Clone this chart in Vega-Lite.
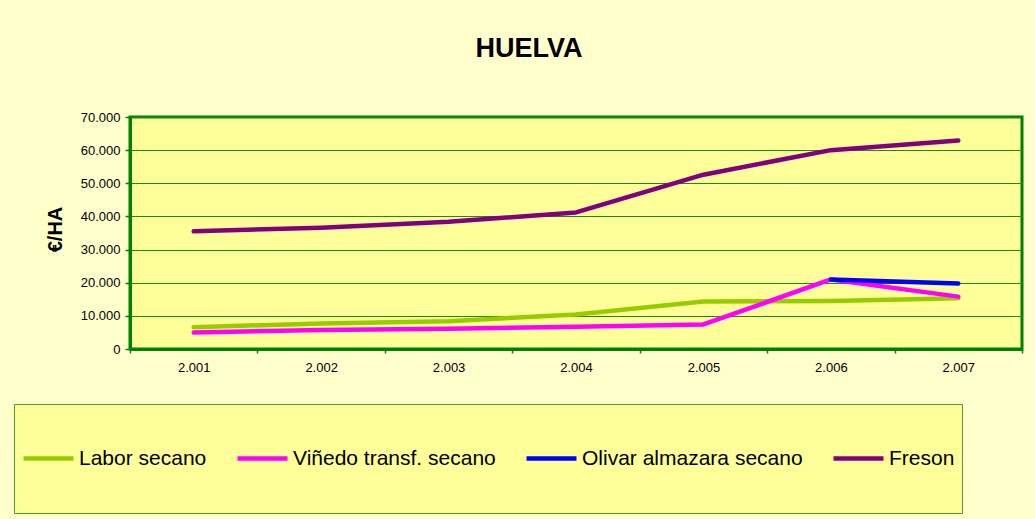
{
  "$schema": "https://vega.github.io/schema/vega-lite/v6.json",
  "width": 892,
  "height": 232,
  "autosize": {"type": "none"},
  "padding": {"left": 130, "top": 117, "right": 13, "bottom": 170},
  "background": "#FFFFCC",
  "title": {
    "text": "HUELVA",
    "font": "Liberation Sans",
    "fontSize": 27,
    "fontWeight": "bold",
    "color": "#000000",
    "anchor": "middle",
    "frame": "group",
    "dx": -47,
    "offset": 48
  },
  "data": {
    "values": [
      {"year": "2.001", "serie": "Labor secano", "value": 6600},
      {"year": "2.002", "serie": "Labor secano", "value": 7700},
      {"year": "2.003", "serie": "Labor secano", "value": 8400},
      {"year": "2.004", "serie": "Labor secano", "value": 10400},
      {"year": "2.005", "serie": "Labor secano", "value": 14300},
      {"year": "2.006", "serie": "Labor secano", "value": 14500},
      {"year": "2.007", "serie": "Labor secano", "value": 15300},
      {"year": "2.001", "serie": "Viñedo transf. secano", "value": 5000},
      {"year": "2.002", "serie": "Viñedo transf. secano", "value": 5700},
      {"year": "2.003", "serie": "Viñedo transf. secano", "value": 6100},
      {"year": "2.004", "serie": "Viñedo transf. secano", "value": 6700},
      {"year": "2.005", "serie": "Viñedo transf. secano", "value": 7400},
      {"year": "2.006", "serie": "Viñedo transf. secano", "value": 21000},
      {"year": "2.007", "serie": "Viñedo transf. secano", "value": 15800},
      {"year": "2.006", "serie": "Olivar almazara secano", "value": 21000},
      {"year": "2.007", "serie": "Olivar almazara secano", "value": 19800},
      {"year": "2.001", "serie": "Freson", "value": 35500},
      {"year": "2.002", "serie": "Freson", "value": 36600},
      {"year": "2.003", "serie": "Freson", "value": 38400},
      {"year": "2.004", "serie": "Freson", "value": 41200},
      {"year": "2.005", "serie": "Freson", "value": 52600},
      {"year": "2.006", "serie": "Freson", "value": 60000},
      {"year": "2.007", "serie": "Freson", "value": 62900}
    ]
  },
  "mark": {"type": "line", "strokeWidth": 4.5, "strokeCap": "round", "strokeJoin": "round"},
  "encoding": {
    "x": {
      "field": "year",
      "type": "ordinal",
      "scale": {"type": "band", "paddingInner": 0, "paddingOuter": 0},
      "axis": {
        "title": null,
        "labelAngle": 0,
        "labelFont": "Liberation Sans",
        "labelFontSize": 13,
        "labelColor": "#000000",
        "labelPadding": 8,
        "tickBand": "extent",
        "tickSize": 4,
        "tickColor": "#008000",
        "tickWidth": 1.5,
        "domainColor": "#008000",
        "domainWidth": 3,
        "grid": false
      }
    },
    "y": {
      "field": "value",
      "type": "quantitative",
      "scale": {"domain": [0, 70000], "nice": false},
      "axis": {
        "title": "€/HA",
        "titleFont": "Liberation Sans",
        "titleFontSize": 20,
        "titleFontWeight": "bold",
        "titleColor": "#000000",
        "titleAngle": -90,
        "titleX": -75,
        "titleY": 112,
        "titleAlign": "center",
        "titleBaseline": "middle",
        "values": [0, 10000, 20000, 30000, 40000, 50000, 60000, 70000],
        "format": ",d",
        "labelFont": "Liberation Sans",
        "labelFontSize": 13,
        "labelColor": "#000000",
        "labelPadding": 5,
        "tickSize": 5,
        "tickColor": "#008000",
        "tickWidth": 1.5,
        "domainColor": "#008000",
        "domainWidth": 3,
        "grid": true,
        "gridColor": "#1A8C1A",
        "gridWidth": 1.2
      }
    },
    "color": {
      "field": "serie",
      "type": "nominal",
      "scale": {
        "domain": ["Labor secano", "Viñedo transf. secano", "Olivar almazara secano", "Freson"],
        "range": ["#99CC00", "#FF00FF", "#0000FF", "#800080"]
      },
      "legend": {
        "title": null,
        "orient": "none",
        "legendX": -116,
        "legendY": 287,
        "direction": "horizontal",
        "fillColor": "#FFFF99",
        "strokeColor": "#4A9E2A",
        "padding": 7,
        "clipHeight": 95,
        "columnPadding": 28,
        "symbolType": "stroke",
        "symbolSize": 2500,
        "symbolStrokeWidth": 4.5,
        "labelFont": "Liberation Sans",
        "labelFontSize": 21,
        "labelColor": "#000000",
        "labelOffset": 3,
        "labelLimit": 400
      }
    }
  },
  "config": {
    "locale": {
      "number": {"decimal": ",", "thousands": ".", "grouping": [3], "currency": ["", " €"]}
    },
    "view": {"fill": "#FFFF99", "stroke": "#008000", "strokeWidth": 3}
  }
}
